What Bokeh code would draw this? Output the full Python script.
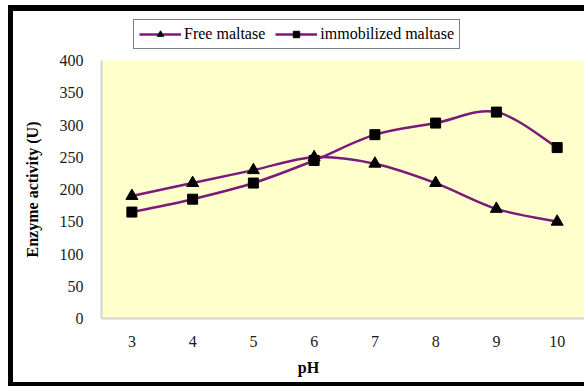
import numpy as np
from bokeh.plotting import figure
from bokeh.layouts import column
from bokeh.models import (Range1d, FixedTicker, Legend, LegendItem, Label,
                          ColumnDataSource)
from bokeh.embed import file_html
from bokeh.resources import INLINE

# ---- data ----
ph = [3, 4, 5, 6, 7, 8, 9, 10]
free_maltase = [190, 210, 230, 250, 240, 210, 170, 150]
immobilized_maltase = [165, 185, 210, 245, 285, 303, 320, 265]
y_ticks = [0, 50, 100, 150, 200, 250, 300, 350, 400]
series_names = ["Free maltase", "immobilized maltase"]
x_title = "pH"
y_title = "Enzyme activity (U)"

FONT = "Liberation Serif"
LINE_COLOR = "#7b1a7b"
series_style = [("triangle", 12), ("square", 10)]
X_RANGE = (2.5, 10.45)

# ---------------- main chart ----------------
p = figure(width=584, height=302, output_backend="svg", toolbar_location=None,
           x_range=Range1d(*X_RANGE), y_range=Range1d(0, 400),
           min_border_left=101, min_border_right=0, min_border_top=10,
           min_border_bottom=34)
p.background_fill_color = "#FFFFCC"
p.border_fill_color = "white"
p.border_fill_alpha = 0.0
p.outline_line_color = None
p.xgrid.visible = False
p.ygrid.visible = False

for ax in (p.xaxis[0], p.yaxis[0]):
    ax.major_tick_line_color = None
    ax.minor_tick_line_color = None
    ax.axis_line_color = "#d4d4d4"
    ax.axis_line_width = 2
    ax.major_label_text_font = FONT
    ax.major_label_text_font_size = "16px"
    ax.major_label_text_color = "#1a1a1a"
    ax.axis_label_text_font = FONT
    ax.axis_label_text_font_size = "16px"
    ax.axis_label_text_font_style = "bold"
    ax.axis_label_text_color = "black"
p.xaxis.ticker = FixedTicker(ticks=ph)
p.yaxis.ticker = FixedTicker(ticks=y_ticks)
p.yaxis.major_label_standoff = 12
p.xaxis.major_label_standoff = 11
p.yaxis.axis_label = y_title
p.yaxis.axis_label_standoff = 16


def smooth_segments(xs, ys):
    X = np.asarray(xs, float)
    Y = np.asarray(ys, float)
    n = len(X)
    Xp = np.concatenate([[X[0]], X, [X[-1]]])
    Yp = np.concatenate([[Y[0]], Y, [Y[-1]]])
    i = np.arange(n - 1)
    return dict(
        x0=X[i], y0=Y[i], x1=X[i + 1], y1=Y[i + 1],
        cx0=X[i] + (Xp[i + 2] - Xp[i]) / 6, cy0=Y[i] + (Yp[i + 2] - Yp[i]) / 6,
        cx1=X[i + 1] - (Xp[i + 3] - Xp[i + 1]) / 6, cy1=Y[i + 1] - (Yp[i + 3] - Yp[i + 1]) / 6,
    )


for ys, (marker, size) in zip((free_maltase, immobilized_maltase), series_style):
    seg = ColumnDataSource(smooth_segments(ph, ys))
    p.bezier(x0="x0", y0="y0", x1="x1", y1="y1", cx0="cx0", cy0="cy0",
             cx1="cx1", cy1="cy1", source=seg, line_color=LINE_COLOR, line_width=2.5)
    p.scatter(ph, ys, marker=marker, size=size, fill_color="black",
              line_color="black", line_width=1)


def strip(height, x_range):
    f = figure(width=584, height=height, output_backend="svg", toolbar_location=None,
               x_range=Range1d(*x_range), y_range=Range1d(0, 1), min_border=0,
               x_axis_location=None, y_axis_location=None)
    f.xgrid.visible = False
    f.ygrid.visible = False
    f.outline_line_color = None
    f.background_fill_alpha = 0.0
    f.border_fill_alpha = 0.0
    return f


# ---------------- legend strip above the chart ----------------
top = strip(50, (0, 1))
nan = float("nan")
items = []
for name, (marker, size) in zip(series_names, series_style):
    l = top.line(x=[nan], y=[nan], line_color=LINE_COLOR, line_width=2.5)
    s = top.scatter(x=[nan], y=[nan], marker=marker, size=size,
                    fill_color="black", line_color="black")
    items.append(LegendItem(label=name, renderers=[l, s]))

legend = Legend(items=items, orientation="horizontal", location=(32, 1),
                label_text_font=FONT, label_text_font_size="16px",
                label_text_color="black", border_line_color="black",
                border_line_width=1.5, background_fill_color="white",
                background_fill_alpha=1.0, padding=5, spacing=10, margin=0,
                glyph_width=42, glyph_height=16, label_height=16,
                label_standoff=3)
top.add_layout(legend, "center")

# ---------------- x-axis title strip below the chart ----------------
bottom = strip(34, X_RANGE)
bottom.add_layout(Label(x=5.907, y=0.56, text=x_title, text_font=FONT,
                        text_font_size="16px", text_font_style="bold",
                        text_color="black", text_align="center",
                        text_baseline="middle"))

layout = column(top, p, bottom, spacing=0, styles={
    "box-shadow": ("inset 8px 0 0 0 white, inset 0 5px 0 0 white, "
                   "inset 13px 0 0 0 black, inset 0 11px 0 0 black, "
                   "inset 0 -4px 0 0 black"),
    "background-color": "white",
})

open("out.html", "w").write(file_html(layout, INLINE))
